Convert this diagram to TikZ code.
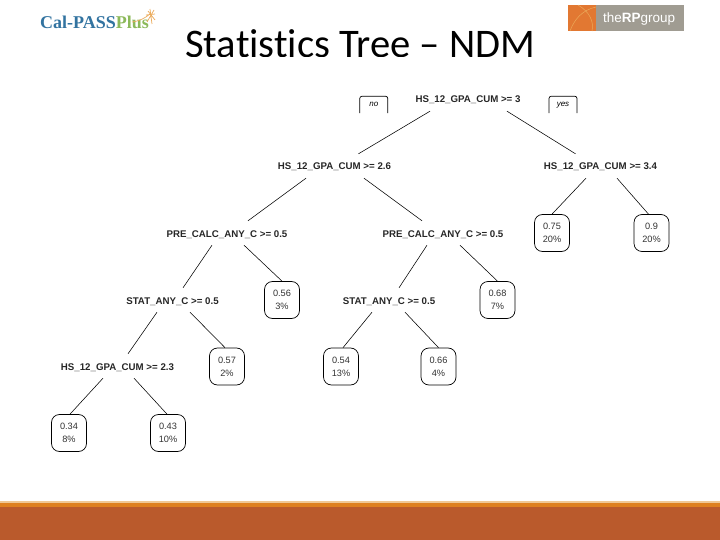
\documentclass[tikz,border=0pt]{standalone}
\usepackage{fontspec}
\setmainfont{Liberation Sans}
\newfontfamily\titlefont[Ligatures=NoCommon]{Carlito}
\newfontfamily\logofont{Liberation Serif}
\definecolor{footA}{RGB}{222,128,32}
\definecolor{footB}{RGB}{186,90,44}
\definecolor{footC}{RGB}{240,200,150}
\definecolor{rpO}{RGB}{226,120,50}
\definecolor{rpG}{RGB}{160,156,146}
\definecolor{calB}{RGB}{50,115,160}
\definecolor{calG}{RGB}{140,185,90}
\definecolor{calO}{RGB}{235,170,90}
\tikzset{
  split/.style={inner sep=0pt,minimum height=24pt,text height=8.5pt,text depth=0.5pt,font=\fontsize{9.7}{10}\selectfont\bfseries,text=black!85},
  leaf/.style={draw,rounded corners=8pt,line width=0.7pt,minimum width=35pt,minimum height=37pt,inner sep=0pt,align=center,font=\fontsize{9.2}{13}\selectfont,text=black!80},
  edge/.style={draw,line width=0.55pt},
  tag/.style={inner sep=0pt,minimum width=27.5pt,minimum height=16.5pt,font=\fontsize{8}{8}\selectfont\itshape},
  tagbox/.style={draw,line width=0.7pt,rounded corners=2pt}
}
\begin{document}
\begin{tikzpicture}[x=1pt,y=-1pt]
\useasboundingbox (0,0) rectangle (720,540);
% footer
\fill[footC] (0,501) rectangle (720,503);
\fill[footA] (0,502.5) rectangle (720,507);
\fill[footB] (0,507) rectangle (720,540);
% title
\begin{scope}
\clip (0,0) rectangle (720,56.5);
\node[anchor=base west,inner sep=0pt,font=\fontsize{40.6}{44}\selectfont\titlefont] (title) at (185,58) {Statistics Tree – NDM};
\end{scope}
% Cal-PASS Plus logo
\node[anchor=base west,inner sep=0pt,font=\fontsize{18}{20}\selectfont\logofont\bfseries] (cal) at (40,29) {\textcolor{calB}{Cal-PASS}\textcolor{calG}{Plus}};
\draw[calO,line width=0.7pt] (150,9) -- (152,24) (146,15) -- (155,14) (147,22) -- (154,10) (155,20) -- (148,11) (132,22) .. controls (140,21) and (145,18) .. (150,14);
% RP group logo
\fill[rpG] (568,5) rectangle (684,31);
\fill[rpO] (568,5) rectangle (596,31);
\draw[calO,line width=0.5pt] (570,31) .. controls (574,20) and (582,10) .. (596,7) (578,5) .. controls (590,12) and (594,22) .. (592,31);
\node[anchor=base west,inner sep=0pt,text=white,font=\fontsize{13.5}{16}\selectfont] (rp) at (603,23) {the\textbf{RP}group};
% tags
\node[tag] (no) at (373.75,104.75) {\raisebox{-2pt}{no}};
\node[tag] (yes) at (563,104.75) {\raisebox{-2pt}{yes}};
\draw[tagbox] (no.south west) |- (no.north) -| (no.south east);
\draw[tagbox] (yes.south west) |- (yes.north) -| (yes.south east);
% split nodes
\node[split] (root) at (468,99) {HS\_12\_GPA\_CUM >= 3};
\node[split] (h26) at (334.5,166) {HS\_12\_GPA\_CUM >= 2.6};
\node[split] (h34) at (600.5,166) {HS\_12\_GPA\_CUM >= 3.4};
\node[split] (pl) at (227,233) {PRE\_CALC\_ANY\_C >= 0.5};
\node[split] (pr) at (443,233) {PRE\_CALC\_ANY\_C >= 0.5};
\node[split] (sl) at (172.5,300) {STAT\_ANY\_C >= 0.5};
\node[split] (sr) at (389,300) {STAT\_ANY\_C >= 0.5};
\node[split] (h23) at (117.5,366) {HS\_12\_GPA\_CUM >= 2.3};
% leaves
\node[leaf] (a75) at (552,233) {0.75\\20\%};
\node[leaf] (a90) at (651.5,233) {0.9\\20\%};
\node[leaf] (a56) at (282,300) {0.56\\3\%};
\node[leaf] (a68) at (497.5,300) {0.68\\7\%};
\node[leaf] (a57) at (227,366.5) {0.57\\2\%};
\node[leaf] (a54) at (341,366.5) {0.54\\13\%};
\node[leaf] (a66) at (438.5,366.5) {0.66\\4\%};
\node[leaf] (a34) at (69,433) {0.34\\8\%};
\node[leaf] (a43) at (168,433) {0.43\\10\%};
% connectors
\draw[edge] ([xshift=-38pt]root.south) -- ([xshift=24pt]h26.north);
\draw[edge] ([xshift=39pt]root.south) -- ([xshift=-25pt]h34.north);
\draw[edge] ([xshift=-28.5pt]h26.south) -- ([xshift=21pt]pl.north);
\draw[edge] ([xshift=29.5pt]h26.south) -- ([xshift=-21pt]pr.north);
\draw[edge] ([xshift=-14.5pt]h34.south) -- (a75.north);
\draw[edge] ([xshift=16.5pt]h34.south) -- ([xshift=-3pt]a90.north);
\draw[edge] ([xshift=-15pt]pl.south) -- ([xshift=10.5pt]sl.north);
\draw[edge] ([xshift=17pt]pl.south) -- (a56.north);
\draw[edge] ([xshift=-16pt]pr.south) -- ([xshift=10pt]sr.north);
\draw[edge] ([xshift=17pt]pr.south) -- (a68.north);
\draw[edge] ([xshift=-15.5pt]sl.south) -- ([xshift=10.5pt]h23.north);
\draw[edge] ([xshift=17.5pt]sl.south) -- ([xshift=-2pt]a57.north);
\draw[edge] ([xshift=-17pt]sr.south) -- ([xshift=2pt]a54.north);
\draw[edge] ([xshift=16pt]sr.south) -- (a66.north);
\draw[edge] ([xshift=-14.5pt]h23.south) -- ([xshift=1pt]a34.north);
\draw[edge] ([xshift=16.5pt]h23.south) -- ([xshift=-1pt]a43.north);
\end{tikzpicture}
\end{document}
